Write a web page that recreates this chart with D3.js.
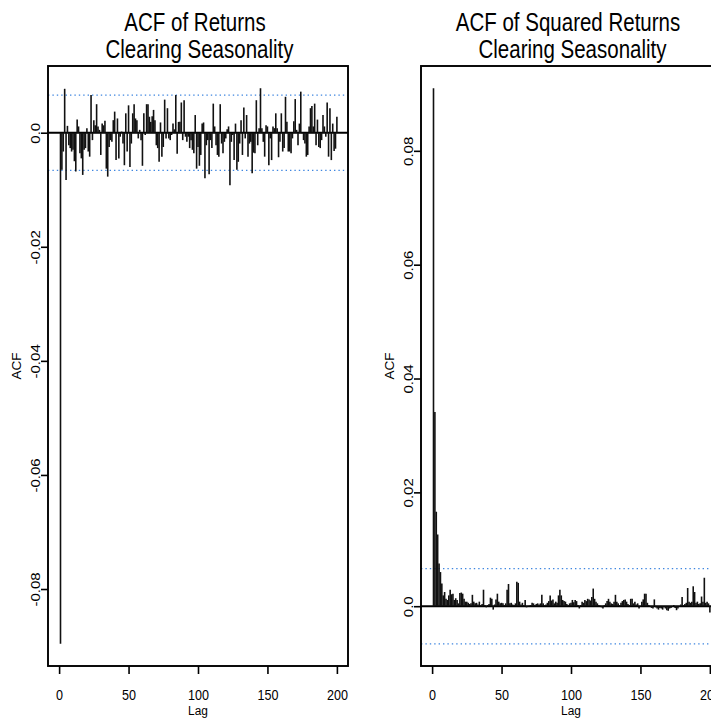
<!DOCTYPE html>
<html>
<head>
<meta charset="utf-8">
<script src="https://cdn.jsdelivr.net/npm/d3@7"></script>
<style>
  body { margin: 0; background: #ffffff; }
  svg { display: block; }
  text { font-family: "Liberation Sans", Arial, Helvetica, sans-serif; fill: #000; }
</style>
</head>
<body>
<svg id="chart" width="711" height="718"></svg>
<script>
// Lags shown in both correlograms
const lags = d3.range(1, 201);

// Sample autocorrelations of returns, lags 1..200
const returnsAcf = [
  -0.0896, -0.0065, -0.0033, 0.0077, -0.0083, 0.0012, -0.0022, -0.0027, -0.0033, -0.0030,
  -0.0050, -0.0068, 0.0023, 0.0011, -0.0036, -0.0045, -0.0074, -0.0030, -0.0027, 0.0008,
  -0.0033, -0.0042, 0.0066, -0.0013, 0.0022, 0.0013, 0.0050, 0.0011, 0.0005, -0.0039,
  0.0016, 0.0013, 0.0021, -0.0063, -0.0077, -0.0025, -0.0013, -0.0016, 0.0022, 0.0037,
  -0.0048, 0.0025, -0.0045, -0.0007, 0.0002, -0.0019, -0.0057, 0.0034, -0.0033, 0.0048,
  -0.0060, -0.0019, 0.0034, 0.0050, 0.0025, 0.0022, -0.0010, 0.0005, -0.0013, -0.0058,
  0.0034, -0.0004, 0.0050, 0.0050, 0.0028, 0.0019, 0.0029, 0.0040, 0.0022, -0.0022,
  -0.0027, -0.0051, 0.0018, -0.0042, -0.0025, 0.0058, -0.0010, 0.0043, -0.0010, -0.0013,
  -0.0004, 0.0016, 0.0006, 0.0066, -0.0037, 0.0019, 0.0019, 0.0053, -0.0013, 0.0057,
  -0.0007, -0.0016, -0.0007, -0.0027, -0.0013, -0.0030, -0.0036, 0.0031, -0.0063, -0.0025,
  -0.0058, -0.0039, 0.0016, 0.0018, -0.0080, -0.0022, -0.0013, -0.0073, -0.0013, -0.0027,
  0.0051, 0.0011, -0.0022, -0.0039, -0.0042, 0.0050, -0.0019, -0.0036, -0.0016, -0.0010,
  0.0006, 0.0011, -0.0092, -0.0016, -0.0004, -0.0048, 0.0016, -0.0065, -0.0051, -0.0019,
  0.0022, -0.0039, 0.0044, -0.0010, 0.0031, -0.0042, -0.0019, -0.0016, -0.0071, -0.0035,
  -0.0036, 0.0057, -0.0022, 0.0008, 0.0078, 0.0008, -0.0016, -0.0042, 0.0013, 0.0011,
  -0.0057, -0.0010, -0.0048, 0.0011, 0.0008, 0.0034, 0.0008, -0.0043, -0.0016, 0.0034,
  -0.0033, -0.0027, 0.0063, 0.0019, -0.0033, -0.0033, -0.0036, -0.0010, 0.0020, 0.0059,
  0.0005, -0.0022, 0.0016, 0.0072, -0.0001, -0.0013, -0.0019, -0.0042, -0.0039, 0.0011,
  0.0043, 0.0047, 0.0011, 0.0051, -0.0022, 0.0023, -0.0025, -0.0027, -0.0013, 0.0031,
  0.0011, -0.0007, 0.0053, -0.0042, 0.0043, -0.0048, 0.0016, -0.0032, -0.0028, 0.0028
];

// Sample autocorrelations of squared returns, lags 1..200
const squaredAcf = [
  0.0910, 0.0341, 0.0166, 0.0126, 0.0075, 0.0060, 0.0040, 0.0019, 0.0025, 0.0013,
  0.0011, 0.0019, 0.0029, 0.0021, 0.0022, 0.0011, 0.0014, 0.0011, 0.0005, 0.0023,
  0.0024, 0.0022, 0.0013, 0.0008, 0.0008, 0.0006, 0.0004, 0.0005, 0.0020, 0.0008,
  0.0005, 0.0006, 0.0003, 0.0008, 0.0002, 0.0004, 0.0029, 0.0002, -0.0002, 0.0002,
  0.0004, 0.0015, 0.0013, -0.0006, 0.0003, 0.0012, 0.0022, 0.0008, 0.0005, 0.0006,
  0.0005, 0.0002, 0.0005, 0.0029, 0.0039, 0.0005, 0.0006, 0.0003, 0.0002, 0.0005,
  0.0043, 0.0041, 0.0008, 0.0003, 0.0006, 0.0002, 0.0011, -0.0002, -0.0001, 0.0001,
  0.0002, 0.0006, 0.0005, 0.0002, 0.0004, 0.0005, 0.0003, 0.0005, 0.0020, 0.0005,
  0.0002, 0.0003, 0.0006, 0.0009, 0.0019, 0.0010, 0.0012, 0.0005, 0.0008, 0.0006,
  0.0019, 0.0029, 0.0019, 0.0011, 0.0009, 0.0008, 0.0004, 0.0002, 0.0005, 0.0006,
  0.0011, 0.0007, 0.0011, 0.0009, 0.0002, -0.0004, 0.0002, 0.0008, 0.0006, 0.0011,
  0.0009, 0.0013, 0.0012, 0.0010, 0.0016, 0.0031, 0.0013, 0.0008, 0.0005, 0.0002,
  0.0001, -0.0002, -0.0004, 0.0002, 0.0005, 0.0009, 0.0013, 0.0008, 0.0005, 0.0004,
  0.0008, 0.0020, 0.0008, 0.0005, 0.0002, 0.0006, 0.0009, 0.0011, 0.0012, 0.0008,
  0.0004, 0.0002, 0.0013, 0.0013, 0.0005, 0.0008, 0.0003, 0.0005, -0.0004, -0.0001,
  0.0008, 0.0012, 0.0022, 0.0022, 0.0006, 0.0002, -0.0001, -0.0003, -0.0004, 0.0012,
  -0.0002, -0.0004, -0.0006, -0.0003, -0.0004, -0.0006, -0.0002, -0.0004, -0.0007, -0.0008,
  -0.0004, -0.0003, -0.0001, 0.0002, -0.0003, -0.0007, -0.0004, -0.0001, 0.0003, 0.0016,
  0.0002, 0.0004, 0.0006, 0.0032, 0.0008, 0.0006, 0.0008, 0.0035, 0.0025, 0.0006,
  0.0008, 0.0004, 0.0005, 0.0017, 0.0008, 0.0050, 0.0006, 0.0008, 0.0005, -0.0011
];

// Approximate 95% white-noise band (1.96 / sqrt(n))
const ciBound = 0.0066;

const lagTicks = [0, 50, 100, 150, 200];
const returnsTicks = [0, -0.02, -0.04, -0.06, -0.08];
const squaredTicks = [0, 0.02, 0.04, 0.06, 0.08];

const returnsTitle = ["ACF of Returns", "Clearing Seasonality"];
const squaredTitle = ["ACF of Squared Returns", "Clearing Seasonality"];
const xLabel = "Lag";
const yLabel = "ACF";

const svg = d3.select("#chart");
svg.append("rect").attr("width", 711).attr("height", 718).attr("fill", "#fff");

// Base-graphics style range: data extent widened by 4%
function padded(lo, hi) {
  const pad = (hi - lo) * 0.04;
  return [lo - pad, hi + pad];
}

function tickText(v) {
  return v === 0 ? "0.0" : v.toFixed(2);
}

function drawPanel(opts) {
  const { left, right, top, bottom, values, ticks, title } = opts;
  const g = svg.append("g");

  const x = d3.scaleLinear()
    .domain(padded(0, d3.max(lags)))
    .range([left, right]);

  const lo = Math.min(-ciBound, d3.min(values));
  const hi = Math.max(ciBound, d3.max(values));
  const y = d3.scaleLinear().domain(padded(lo, hi)).range([bottom, top]);

  // white-noise band
  g.selectAll("line.ci").data([ciBound, -ciBound]).join("line")
    .attr("class", "ci")
    .attr("x1", left).attr("x2", right)
    .attr("y1", d => y(d)).attr("y2", d => y(d))
    .attr("stroke", "#3f86e0")
    .attr("stroke-width", 1.3)
    .attr("stroke-dasharray", "1.4,3");

  // zero reference
  g.append("line")
    .attr("x1", left).attr("x2", right)
    .attr("y1", y(0)).attr("y2", y(0))
    .attr("stroke", "#000").attr("stroke-width", 1.9);

  // correlation spikes
  g.selectAll("line.spike").data(lags.map((l, i) => [l, values[i]])).join("line")
    .attr("class", "spike")
    .attr("x1", d => x(d[0])).attr("x2", d => x(d[0]))
    .attr("y1", y(0)).attr("y2", d => y(d[1]))
    .attr("stroke", "#111").attr("stroke-width", 1.6);

  // plot frame
  g.append("rect")
    .attr("x", left).attr("y", top)
    .attr("width", right - left).attr("height", bottom - top)
    .attr("fill", "none").attr("stroke", "#000").attr("stroke-width", 1.9);

  // x axis
  const xAxis = g.append("g")
    .attr("transform", `translate(0,${bottom})`)
    .call(d3.axisBottom(x).tickValues(lagTicks).tickSize(8).tickFormat(""));
  xAxis.select(".domain").remove();
  xAxis.selectAll(".tick line").attr("stroke", "#000").attr("stroke-width", 1.6);
  xAxis.selectAll(".tick").append("text")
    .attr("transform", "translate(0,34) scale(0.84,1)")
    .attr("text-anchor", "middle")
    .style("font-size", "15px")
    .text(d => d);

  // y axis
  const yAxis = g.append("g")
    .attr("transform", `translate(${left},0)`)
    .call(d3.axisLeft(y).tickValues(ticks).tickSize(7).tickFormat(""));
  yAxis.select(".domain").remove();
  yAxis.selectAll(".tick line").attr("stroke", "#000").attr("stroke-width", 1.6);
  yAxis.selectAll(".tick").append("text")
    .attr("transform", "translate(-13,0) scale(0.84,1) rotate(-90)")
    .attr("text-anchor", "middle")
    .attr("dy", "0.36em")
    .style("font-size", "15px")
    .text(d => tickText(d));

  const cx = (left + right) / 2;

  // axis titles
  g.append("text")
    .attr("transform", `translate(${cx},${bottom + 49}) scale(0.88,1)`)
    .attr("text-anchor", "middle")
    .style("font-size", "13.5px")
    .text(xLabel);
  g.append("text")
    .attr("transform", `translate(${left - 31},${(top + bottom) / 2}) scale(0.88,1) rotate(-90)`)
    .attr("text-anchor", "middle")
    .attr("dy", "0.36em")
    .style("font-size", "13.5px")
    .text(yLabel);

  // two-line title
  g.append("text")
    .attr("transform", `translate(${cx - 3},31) scale(0.82,1)`)
    .attr("text-anchor", "middle")
    .style("font-size", "25px")
    .text(title[0]);
  g.append("text")
    .attr("transform", `translate(${cx + 1.5},57.5) scale(0.82,1)`)
    .attr("text-anchor", "middle")
    .style("font-size", "25px")
    .text(title[1]);
}

drawPanel({ left: 48, right: 348, top: 66, bottom: 666, values: returnsAcf, ticks: returnsTicks, title: returnsTitle });
drawPanel({ left: 421, right: 721, top: 66, bottom: 666, values: squaredAcf, ticks: squaredTicks, title: squaredTitle });
</script>
</body>
</html>
